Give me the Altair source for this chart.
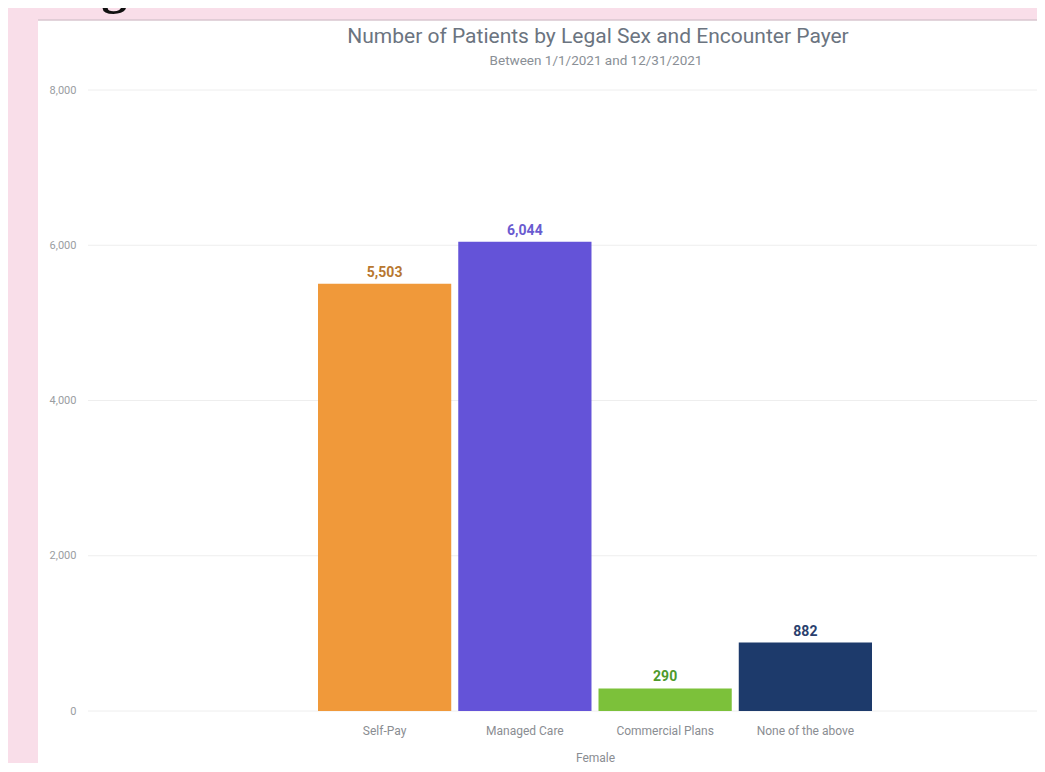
import altair as alt
import pandas as pd

categories = ["Self-Pay", "Managed Care", "Commercial Plans", "None of the above"]
values = [5503, 6044, 290, 882]
bar_colors = ["#f0993a", "#6453d8", "#7cc13a", "#1d3a6b"]
label_colors = ["#b8772f", "#6a5bd0", "#4f9a2b", "#2a3f6e"]
y_ticks = [0, 2000, 4000, 6000, 8000]
title_text = "Number of Patients by Legal Sex and Encounter Payer"
subtitle_text = "Between 1/1/2021 and 12/31/2021"
fig_label = "Fig 3"

df = pd.DataFrame({
    "payer": categories,
    "count": values,
    "bar_color": bar_colors,
    "label_color": label_colors,
})
grid_df = pd.DataFrame({"tick": y_ticks})

W, H = 949, 621

x_scale = alt.Scale(domain=categories, paddingInner=0.05, paddingOuter=0, range=[230, 784])
x_enc = alt.X(
    "payer:N",
    sort=categories,
    title="Female",
    scale=x_scale,
    axis=alt.Axis(
        labelAngle=0, labelFont="Roboto", labelFontSize=12, labelColor="#8a8d92",
        labelPadding=14, ticks=False, domain=False, grid=False,
        titleFont="Roboto", titleFontSize=12, titleColor="#8a8d92",
        titleFontWeight="normal", titlePadding=16,
    ),
)
y_scale = alt.Scale(domain=[0, 8000], nice=False)

grid = alt.Chart(grid_df).mark_rule(color="#eeeeee", strokeWidth=1).encode(
    y=alt.Y("tick:Q", scale=y_scale,
            axis=alt.Axis(values=y_ticks, format=",.0f", labelFont="Roboto",
                          labelFontSize=11, labelColor="#9a9da2", labelPadding=12,
                          ticks=False, domain=False, grid=False, title=None)),
    x=alt.value(0), x2=alt.value(W),
)

bars = alt.Chart(df).mark_bar().encode(
    x=x_enc,
    y=alt.Y("count:Q", scale=y_scale),
    color=alt.Color("bar_color:N", scale=None, legend=None),
)

labels = alt.Chart(df).mark_text(
    font="Roboto", fontSize=14, fontWeight="bold", baseline="bottom", dy=-4,
).encode(
    x=alt.X("payer:N", sort=categories, scale=x_scale),
    y=alt.Y("count:Q", scale=y_scale),
    text=alt.Text("count:Q", format=","),
    color=alt.Color("label_color:N", scale=None, legend=None),
)

deco_df = pd.DataFrame({"t": [fig_label], "title": [title_text], "sub": [subtitle_text]})
pink = "#f9dee9"
left_strip = alt.Chart(deco_df).mark_rect(color=pink).encode(
    x=alt.value(-80), x2=alt.value(-50), y=alt.value(-82), y2=alt.value(H + 60)
)
top_strip = alt.Chart(deco_df).mark_rect(color=pink).encode(
    x=alt.value(-80), x2=alt.value(W), y=alt.value(-82), y2=alt.value(-70)
)
top_line = alt.Chart(deco_df).mark_rule(color="#d9c6cf", strokeWidth=1.5).encode(
    x=alt.value(-50), x2=alt.value(W), y=alt.value(-70)
)
fig_text = alt.Chart(deco_df).mark_text(
    font="Liberation Serif", fontSize=52, fontWeight="bold", color="#111111",
    align="left", baseline="alphabetic",
).encode(text="t:N", x=alt.value(-33), y=alt.value(-87))

title_mark = alt.Chart(deco_df).mark_text(
    font="Roboto", fontSize=21, color="#6b7480", align="center", baseline="alphabetic",
).encode(text="title:N", x=alt.value(510), y=alt.value(-47))
subtitle_mark = alt.Chart(deco_df).mark_text(
    font="Roboto", fontSize=13.5, color="#8a8f96", align="center", baseline="alphabetic",
).encode(text="sub:N", x=alt.value(508), y=alt.value(-25))

chart = alt.layer(
    grid, bars, labels, left_strip, top_strip, top_line, fig_text, title_mark, subtitle_mark
).properties(
    width=W, height=H,
    autosize=alt.AutoSizeParams(type="none"),
    padding={"left": 80, "top": 82, "right": 0, "bottom": 52},
).configure(background="white").configure_view(stroke=None)

chart.save("out.html", embed_options={"renderer": "svg", "actions": False})
